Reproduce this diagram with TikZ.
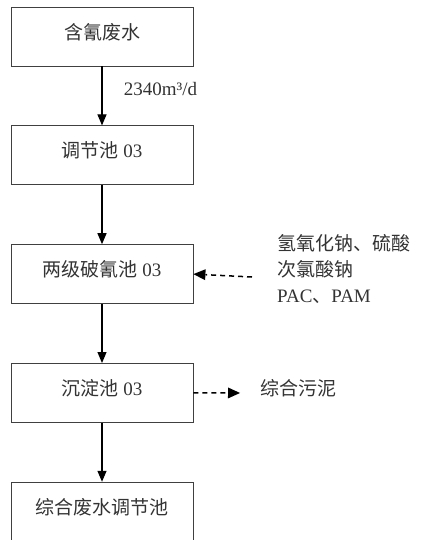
\documentclass[tikz,border=0pt]{standalone}
\usepackage{fontspec}
\setmainfont{Liberation Serif}
\newfontfamily\cjk{Noto Sans CJK SC}
\usetikzlibrary{positioning,arrows.meta}

\begin{document}
\begin{tikzpicture}[x=1pt, y=1pt, node distance=59pt,
    font=\fontsize{19}{26}\selectfont,
    box/.style={draw=black!75, line width=0.8pt, text=black!80,
      minimum width=182pt, minimum height=59pt, text depth=11pt, inner sep=0pt},
    flow/.style={-{Triangle[width=9pt,length=11pt]}, line width=1.2pt},
    dose/.style={-{Triangle[width=11pt,length=12pt,line width=0pt]}, line width=1.5pt, dash pattern=on 5pt off 4pt}]
  \useasboundingbox (0,0) rectangle (421,-540);
  \node[box] (feed) at (102,-36.5) {\cjk 含氰废水};
  \node[box, below=of feed] (eq) {{\cjk 调节池} 03};
  \node[box, below=of eq] (brk) {{\cjk 两级破氰池} 03};
  \node[box, below=of brk] (sed) {{\cjk 沉淀池} 03};
  \node[box, below=of sed] (out) {\cjk 综合废水调节池};
  \draw[flow] (feed) -- node[pos=0.38, anchor=west, xshift=18pt, text=black!80] {2340m³/d} (eq);
  \draw[flow] (eq) -- (brk);
  \draw[flow] (brk) -- (sed);
  \draw[flow] (sed) -- (out);
  % dosing and sludge
  \node[anchor=west, align=left, text=black!80, inner sep=0pt] (chem) at (277,-269)
    {{\cjk 氢氧化钠、硫酸}\\{\cjk 次氯酸钠}\\PAC{\cjk 、}PAM};
  \coordinate (dosein) at (252,-277);
  \draw[dose] (dosein) -- (brk.east);
  \node[anchor=west, text=black!80, inner sep=0pt, text depth=11pt] (sludge) at (260,-393) {\cjk 综合污泥};
  \draw[dose, shorten >=20pt] (sed.east) -- (sludge.west);
\end{tikzpicture}
\end{document}
